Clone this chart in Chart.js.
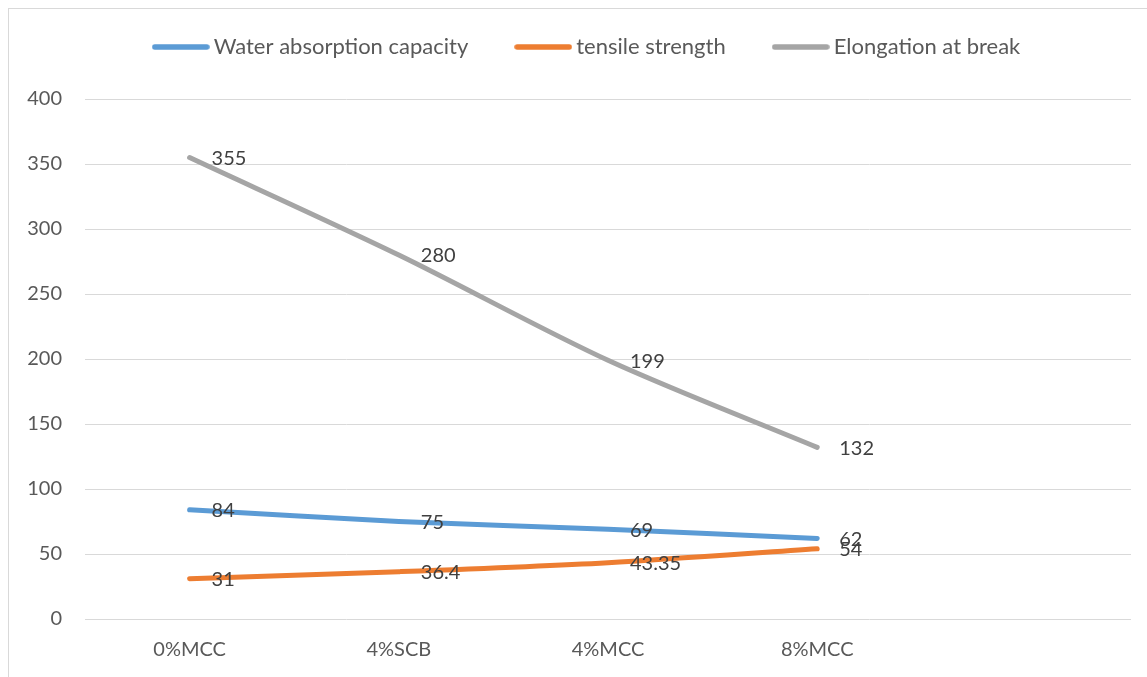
<!DOCTYPE html>
<html>
<head>
<meta charset="utf-8">
<script src="https://cdn.jsdelivr.net/npm/chart.js@4.4.0/dist/chart.umd.min.js"></script>
<style>
  html, body { margin: 0; padding: 0; background: #fff; overflow: hidden; }
  #frame {
    position: absolute; left: 8px; top: 8px; width: 2000px; height: 2000px;
    border: 1px solid #d9d9d9; box-sizing: border-box;
  }
  #wrap { position: absolute; left: 0; top: 0; width: 1131px; height: 677px; }
</style>
</head>
<body>
<div id="frame"></div>
<div id="wrap"><canvas id="myChart"></canvas></div>
<script>
// categories (last slot is left empty, like the original sheet)
const categories = ['0%MCC', '4%SCB', '4%MCC', '8%MCC', ''];

// series values
const waterAbsorption = [84, 75, 69, 62, null];
const tensileStrength = [31, 36.4, 43.35, 54, null];
const elongation = [355, 280, 199, 132, null];

// y axis ticks
const yMin = 0;
const yMax = 400;
const yStep = 50;

const FONT = 'Lato, "Open Sans", sans-serif';
const colors = ['#5b9bd5', '#ed7d31', '#a5a5a5'];

// small rounded line used as legend symbol
function swatch(color) {
    const c = document.createElement('canvas');
    c.width = 58;
    c.height = 8;
    const g = c.getContext('2d');
    g.strokeStyle = color;
    g.lineWidth = 5.5;
    g.lineCap = 'round';
    g.beginPath();
    g.moveTo(3, 4);
    g.lineTo(55, 4);
    g.stroke();
    return c;
}
const swatches = colors.map(swatch);

// draws the value next to every point
const valueLabels = {
    id: 'valueLabels',
    afterDatasetsDraw(chart) {
        const ctx = chart.ctx;
        ctx.save();
        ctx.font = '20px ' + FONT;
        ctx.fillStyle = '#404040';
        ctx.textAlign = 'left';
        ctx.textBaseline = 'middle';
        chart.data.datasets.forEach((ds, i) => {
            const meta = chart.getDatasetMeta(i);
            meta.data.forEach((pt, j) => {
                const v = ds.data[j];
                if (v === null || v === undefined) return;
                ctx.fillText(String(v), pt.x + 22, pt.y + 1);
            });
        });
        ctx.restore();
    }
};

// nudge the legend block into place
const legendOffset = {
    id: 'legendOffset',
    afterLayout(chart) {
        const lg = chart.legend;
        if (!lg) return;
        lg.left += 24; lg.right += 24;
        lg.top -= 31; lg.bottom -= 31;
    }
};

function series(label, data, color) {
    return {
        label: label,
        data: data,
        borderColor: color,
        backgroundColor: color,
        borderWidth: 5,
        borderCapStyle: 'round',
        borderJoinStyle: 'round',
        pointRadius: 0,
        pointHoverRadius: 0,
        tension: 0.3,
        fill: false
    };
}

const ctx = document.getElementById('myChart').getContext('2d');
new Chart(ctx, {
    type: 'line',
    data: {
        labels: categories,
        datasets: [
            series('Water absorption capacity', waterAbsorption, colors[0]),
            series('tensile strength', tensileStrength, colors[1]),
            series('Elongation at break', elongation, colors[2])
        ]
    },
    plugins: [valueLabels, legendOffset],
    options: {
        responsive: true,
        maintainAspectRatio: false,
        animation: false,
        layout: { padding: { left: 0, right: 0, top: 14, bottom: 0 } },
        plugins: {
            tooltip: { enabled: false },
            legend: {
                position: 'top',
                labels: {
                    usePointStyle: true,
                    pointStyleWidth: 44,
                    boxHeight: 5,
                    padding: 53,
                    color: '#595959',
                    font: { family: FONT, size: 22 },
                    generateLabels(chart) {
                        const items = Chart.defaults.plugins.legend.labels.generateLabels(chart);
                        items.forEach((it, i) => { it.pointStyle = swatches[i]; });
                        return items;
                    }
                }
            }
        },
        scales: {
            x: {
                offset: true,
                grid: { display: false },
                border: { display: false },
                ticks: {
                    color: '#595959',
                    font: { family: FONT, size: 20 },
                    padding: 11,
                    maxRotation: 0
                },
                afterFit(scale) { scale.height = 58; }
            },
            y: {
                min: yMin,
                max: yMax,
                border: { display: false },
                grid: { color: '#d9d9d9', lineWidth: 1, drawTicks: false },
                ticks: {
                    stepSize: yStep,
                    color: '#595959',
                    font: { family: FONT, size: 20 },
                    padding: 23
                },
                afterFit(scale) { scale.width = 85; }
            }
        }
    }
});
</script>
</body>
</html>
